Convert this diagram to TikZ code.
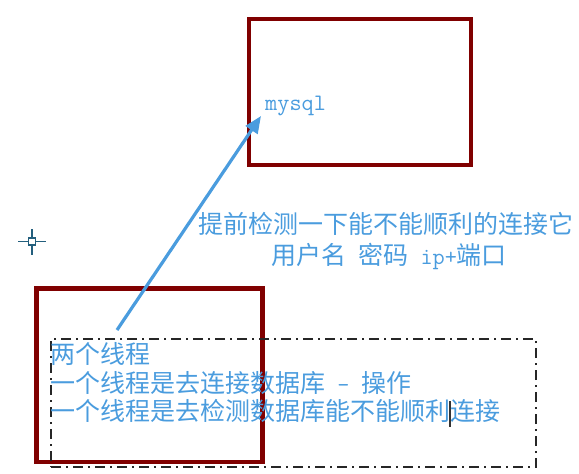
\documentclass[tikz,border=0pt]{standalone}
\usepackage{fontspec}
\newfontfamily\cjkfont{Noto Sans CJK SC}
\newcommand{\monotxt}[1]{{\ttfamily\fontsize{23.6}{28}\selectfont #1}}
\usetikzlibrary{arrows.meta,positioning}
\definecolor{boxred}{RGB}{128,0,0}
\definecolor{noteblue}{RGB}{74,156,222}
\definecolor{markteal}{RGB}{35,95,125}
\tikzset{
    db box/.style = {
        draw = boxred,
        line width = 4.3pt,
        inner sep = 0pt,
        },
    group box/.style = {
        draw = black!85,
        line width = 1.5pt,
        dash pattern = on 10pt off 5pt on 2pt off 5pt,
        inner sep = 0pt,
        },
    note/.style = {
        text = noteblue,
        font = \cjkfont\fontsize{25}{29}\selectfont,
        inner sep = 0pt,
        anchor = west,
        },
    link/.style = {
        draw = noteblue,
        line width = 3.2pt,
        -{Triangle[length=17pt,width=14pt]},
        },
    cross mark/.style = {
        draw = markteal,
        line width = 1.8pt,
        },
}
\begin{document}
\begin{tikzpicture}[x=1pt, y=-1pt]
    \useasboundingbox (0,0) rectangle (579,474);

    % boxes
    \node [db box, minimum width=222pt, minimum height=146pt] (mysqlbox) at (360,92) {};
    \node [db box, minimum width=226pt, minimum height=173.5pt] (threadbox) at (149.5,375.25) {};
    \node [group box, minimum width=485pt, minimum height=128pt] (groupbox) at (293.5,403) {};

    % mysql label
    \node [text=noteblue, inner sep=0pt, anchor=base west] (mysql) at (265,110) {\monotxt{mysql}};

    % check note
    \node [note] (check1) at (198,224) {提前检测一下能不能顺利的连接它};
    \node [note] (check2) at (271,256) {用户名\monotxt{\ }密码\monotxt{\ ip+}端口};

    % thread notes
    \node [note] (line1) at (50,354) {两个线程};
    \node [note] (line2) at (50,383) {一个线程是去连接数据库\monotxt{\ -\ }操作};
    \node [note] (line3) at (50,411) {一个线程是去检测数据库能不能顺利连接};

    % cursor
    \coordinate (cursortop) at (450,401);
    \coordinate (cursorbot) at (450,427);
    \draw [black!80, line width=1.6pt] (cursortop) -- (cursorbot);

    % arrow
    \coordinate (linkstart) at (117,330);
    \coordinate (linkend) at (261,116);
    \draw [link] (linkstart) -- (linkend);

    % cross mark
    \coordinate (crossc) at (32,241.5);
    \draw [cross mark] ([xshift=-14pt]crossc) -- ([xshift=-3.5pt]crossc);
    \draw [cross mark] ([xshift=3.5pt]crossc) -- ([xshift=14pt]crossc);
    \draw [cross mark] ([yshift=-13pt]crossc) -- ([yshift=-3.5pt]crossc);
    \draw [cross mark] ([yshift=3.5pt]crossc) -- ([yshift=13pt]crossc);
    \node [cross mark, line width=1.5pt, minimum size=7pt, inner sep=0pt] (crossbox) at (crossc) {};
\end{tikzpicture}
\end{document}
